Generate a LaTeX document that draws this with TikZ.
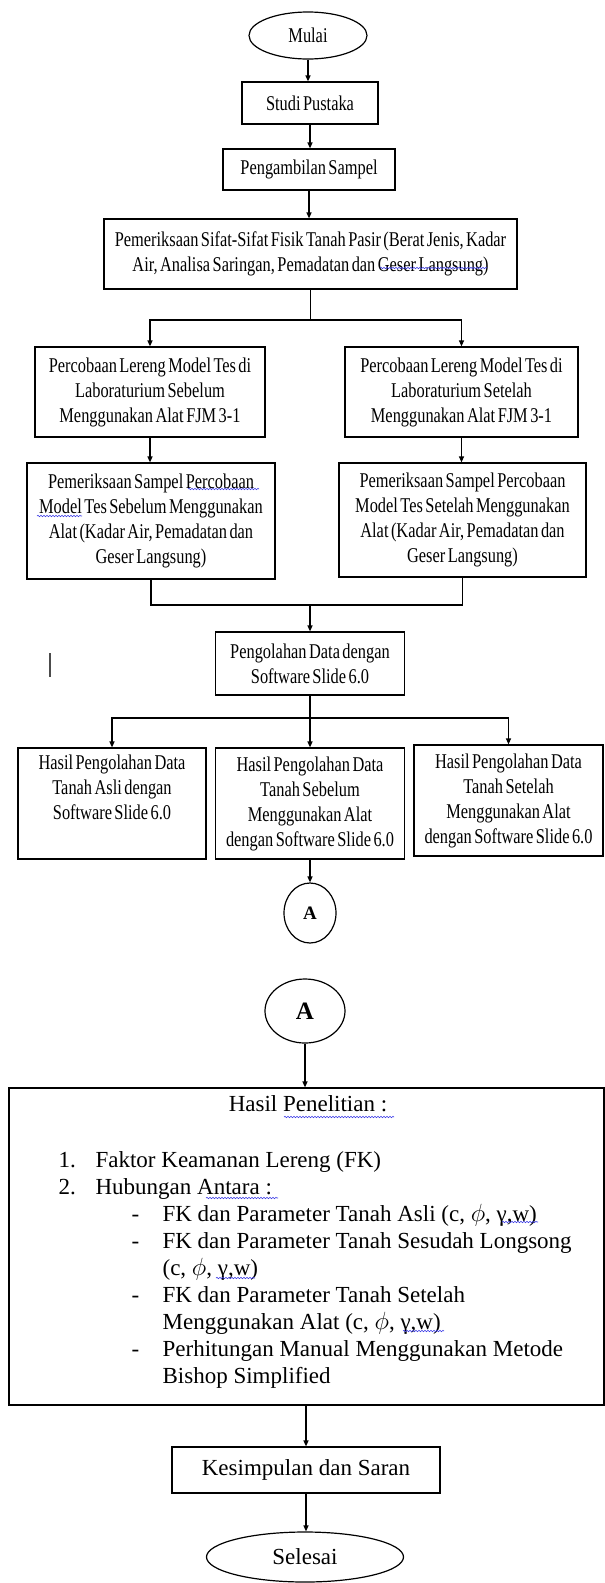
\documentclass[tikz,border=0pt]{standalone}
\usepackage{fontspec}
\setmainfont{Liberation Serif}
\newfontfamily\narrowserif[FakeStretch=0.78, WordSpace=0.6]{Liberation Serif}
\usetikzlibrary{shapes.geometric, arrows.meta, decorations.pathmorphing}
\definecolor{spellblue}{RGB}{60, 60, 230}

\begin{document}
\begin{tikzpicture}[x=1pt, y=-1pt, line width=1.2pt,
  box/.style={draw, rectangle, align=center, inner sep=2pt, font=\narrowserif\fontsize{21}{25}\selectfont},
  oval/.style={draw, ellipse, inner sep=0pt},
  arr/.style={-{Triangle[length=6pt, width=5pt]}},
  spell/.style={spellblue, line width=0.6pt, decorate, decoration={snake, amplitude=0.7pt, segment length=3pt}},
  big/.style={font=\fontsize{23}{27}\selectfont, inner sep=0pt}]
  \useasboundingbox (0, 0) rectangle (605, 1583);

  % Top part
  \node[oval, minimum width=118pt, minimum height=47pt, font=\narrowserif\fontsize{21}{25}\selectfont] (mulai) at (308, 35.5) {Mulai};
  \node[box, minimum width=136pt, minimum height=42pt] (studi) at (310, 103) {Studi Pustaka};
  \node[box, minimum width=172pt, minimum height=41pt] (ambil) at (309, 169.5) {Pengambilan Sampel};
  \node[box, minimum width=413pt, minimum height=70pt] (fisik) at (310.5, 254)
    {Pemeriksaan Sifat-Sifat Fisik Tanah Pasir (Berat Jenis, Kadar\\ Air, Analisa Saringan, Pemadatan dan Geser Langsung)};

  \node[box, minimum width=230pt, minimum height=90pt] (lab1) at (150, 392)
    {Percobaan Lereng Model Tes di\\ Laboraturium Sebelum\\ Menggunakan Alat FJM 3-1};
  \node[box, minimum width=233pt, minimum height=90pt] (lab2) at (461.5, 392)
    {Percobaan Lereng Model Tes di\\ Laboraturium Setelah\\ Menggunakan Alat FJM 3-1};
  \node[box, minimum width=248pt, minimum height=116pt] (uji1) at (151, 521)
    {Pemeriksaan Sampel Percobaan\\ Model Tes Sebelum Menggunakan\\ Alat (Kadar Air, Pemadatan dan\\ Geser Langsung)};
  \node[box, minimum width=247pt, minimum height=114pt] (uji2) at (462.5, 520)
    {Pemeriksaan Sampel Percobaan\\ Model Tes Setelah Menggunakan\\ Alat (Kadar Air, Pemadatan dan\\ Geser Langsung)};

  \node[box, minimum width=189pt, minimum height=63pt] (olah) at (310, 663.5)
    {Pengolahan Data dengan\\ Software Slide 6.0};

  \node[box, minimum width=188pt, minimum height=111pt] (has1) at (112, 803.5)
    {Hasil Pengolahan Data\\ Tanah Asli dengan\\ Software Slide 6.0\\ \strut};
  \node[box, minimum width=189pt, minimum height=111pt] (has2) at (310, 803.5)
    {Hasil Pengolahan Data\\ Tanah Sebelum\\ Menggunakan Alat\\ dengan Software Slide 6.0};
  \node[box, minimum width=189pt, minimum height=111pt] (has3) at (508.5, 800.5)
    {Hasil Pengolahan Data\\ Tanah Setelah\\ Menggunakan Alat\\ dengan Software Slide 6.0};

  \node[oval, minimum width=52pt, minimum height=60pt, font=\fontsize{19}{22}\selectfont\bfseries] (a1) at (310, 913) {A};

  % Connectors top part
  \draw[arr] (mulai.south) -- (mulai.south |- studi.north);
  \draw[arr] (studi.south) -- (studi.south |- ambil.north);
  \draw[arr] (ambil.south) -- (ambil.south |- fisik.north);
  \coordinate (fork1) at (310.5, 320);
  \draw (fisik.south) -- (fork1);
  \draw[arr] (fork1) -| (lab1.north);
  \draw[arr] (fork1) -| (lab2.north);
  \draw[arr] (lab1.south) -- (lab1.south |- uji1.north);
  \draw[arr] (lab2.south) -- (lab2.south |- uji2.north);
  \coordinate (join) at (310, 605);
  \draw (uji1.south) |- (join);
  \draw (uji2.south) |- (join);
  \draw[arr] (join) -- (olah.north);
  \coordinate (fork2) at (310, 718);
  \draw (olah.south) -- (fork2);
  \draw[arr] (fork2) -| (has1.north);
  \draw[arr] (fork2) -- (has2.north);
  \draw[arr] (fork2) -| (has3.north);
  \draw[arr] (has2.south) -- (a1.north);

  % cursor mark
  \draw[line width=1.3pt, black!70] (50, 653) -- (50, 677);

  % Bottom part
  \node[oval, minimum width=80pt, minimum height=64pt, font=\fontsize{25}{28}\selectfont\bfseries] (a2) at (305, 1011) {A};
  \node[draw, minimum width=595pt, minimum height=317pt, inner sep=0pt] (hasil) at (306.5, 1246.5) {};

  \node[big, anchor=base] (judul) at (308, 1111) {Hasil Penelitian :};
  \node[big, anchor=base west] (no1) at (58, 1167) {1.};
  \node[big, anchor=base west] (isi1) at (95, 1167) {Faktor Keamanan Lereng (FK)};
  \node[big, anchor=base west] (no2) at (58, 1194) {2.};
  \node[big, anchor=base west] (isi2) at (95, 1194) {Hubungan Antara :};
  \node[big, anchor=base west] (dasha) at (131, 1221) {-};
  \node[big, anchor=base west] (isia) at (162, 1221) {FK dan Parameter Tanah Asli (c, $\phi$, γ,w)};
  \node[big, anchor=base west] (dashb) at (131, 1248) {-};
  \node[big, anchor=base west] (isib) at (162, 1248) {FK dan Parameter Tanah Sesudah Longsong};
  \node[big, anchor=base west] (isib2) at (162, 1275) {(c, $\phi$, γ,w)};
  \node[big, anchor=base west] (dashc) at (131, 1302) {-};
  \node[big, anchor=base west] (isic) at (162, 1302) {FK dan Parameter Tanah Setelah};
  \node[big, anchor=base west] (isic2) at (162, 1329) {Menggunakan Alat (c, $\phi$, γ,w)};
  \node[big, anchor=base west] (dashd) at (131, 1356) {-};
  \node[big, anchor=base west] (isid) at (162, 1356) {Perhitungan Manual Menggunakan Metode};
  \node[big, anchor=base west] (isid2) at (162, 1383) {Bishop Simplified};

  \node[box, minimum width=268pt, minimum height=46pt, font=\fontsize{23}{27}\selectfont] (simpul) at (306, 1470) {Kesimpulan dan Saran};
  \node[oval, minimum width=197pt, minimum height=50pt, font=\fontsize{23}{27}\selectfont] (selesai) at (305, 1557) {Selesai};

  % Connectors bottom part
  \draw[arr] (a2.south) -- (a2.south |- hasil.north);
  \draw[arr] (simpul.north |- hasil.south) -- (simpul.north);
  \draw[arr] (simpul.south) -- (simpul.south |- selesai.north);

  % spelling marks
  \draw[spell] (380, 268) -- (487, 268);
  \draw[spell] (188, 489) -- (259, 489);
  \draw[spell] (37, 516) -- (82, 516);
  \draw[spell] (284, 1117) -- (394, 1117);
  \draw[spell] (206, 1198) -- (278, 1198);
  \draw[spell] (502, 1222) -- (538, 1222);
  \draw[spell] (216, 1278) -- (255, 1278);
  \draw[spell] (403, 1331) -- (444, 1331);
\end{tikzpicture}
\end{document}
